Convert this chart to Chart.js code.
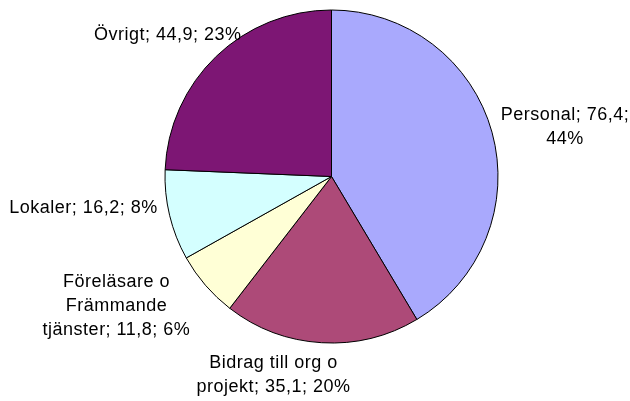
<!DOCTYPE html>
<html lang="sv">
<head>
    <meta charset="UTF-8" />
    <title>Kostnader</title>
    <script src="https://cdn.jsdelivr.net/npm/chart.js"></script>
    <style>
        html, body { margin: 0; padding: 0; background: #fff; }
        .wrap { width: 630px; height: 401px; position: relative; }
    </style>
</head>
<body>
    <div class="wrap"><canvas id="diagram"></canvas></div>

    <script>
    // data
    const kategorier = ['Personal', 'Bidrag till org o projekt', 'Föreläsare o Främmande tjänster', 'Lokaler', 'Övrigt'];
    const belopp = [76.4, 35.1, 11.8, 16.2, 44.9];
    const andelar = [44, 20, 6, 8, 23];   // procent som de står i bilden

    const farger = ['#a9a9fd', '#ad4a78', '#ffffd6', '#d4ffff', '#7d1674'];

    // etiketter: förskjutning från bågens kant + radbrytningsbredd
    const etikettFlytt = [[73, -5], [-48, 32.5], [-89, 20.5], [-86, -7.6], [-48.5, -21.6]];
    const etikettBredd = [135, 165, 155, 400, 400];

    function radbryt(ctx, text, max) {
        const ord = text.split(' ');
        const rader = [];
        let rad = '';
        ord.forEach(o => {
            const test = rad ? rad + ' ' + o : o;
            if (rad && ctx.measureText(test).width > max) {
                rader.push(rad);
                rad = o;
            } else {
                rad = test;
            }
        });
        if (rad) rader.push(rad);
        return rader;
    }

    const etiketter = {
        id: 'etiketter',
        afterDraw(chart) {
            const ctx = chart.ctx;
            const meta = chart.getDatasetMeta(0);
            ctx.save();
            ctx.font = '18px "Liberation Sans", Arial, sans-serif';
            if ('letterSpacing' in ctx) ctx.letterSpacing = '0.5px';
            ctx.fillStyle = '#000';
            ctx.textAlign = 'center';
            ctx.textBaseline = 'middle';
            meta.data.forEach((arc, i) => {
                const p = arc.getProps(['x', 'y', 'startAngle', 'endAngle', 'outerRadius'], true);
                const mitt = (p.startAngle + p.endAngle) / 2;
                const kx = p.x + Math.cos(mitt) * p.outerRadius + etikettFlytt[i][0];
                const ky = p.y + Math.sin(mitt) * p.outerRadius + etikettFlytt[i][1];
                const text = kategorier[i] + '; ' + String(belopp[i]).replace('.', ',') + '; ' + andelar[i] + '%';
                const rader = radbryt(ctx, text, etikettBredd[i]);
                const lh = 24;
                rader.forEach((r, j) => {
                    ctx.fillText(r, kx, ky + (j - (rader.length - 1) / 2) * lh);
                });
            });
            ctx.restore();
        }
    };

    const ctx = document.getElementById('diagram').getContext('2d');
    const diagram = new Chart(ctx, {
        type: 'pie',
        data: {
            labels: kategorier,
            datasets: [{
                data: belopp,
                backgroundColor: farger,
                borderColor: '#000',
                borderWidth: 1
            }]
        },
        options: {
            responsive: true,
            maintainAspectRatio: false,
            animation: false,
            layout: {
                padding: { top: 9.5, bottom: 57.5, left: 33, right: 0 }
            },
            plugins: {
                legend: { display: false },
                tooltip: { enabled: false }
            }
        },
        plugins: [etiketter]
    });
    </script>
</body>
</html>
